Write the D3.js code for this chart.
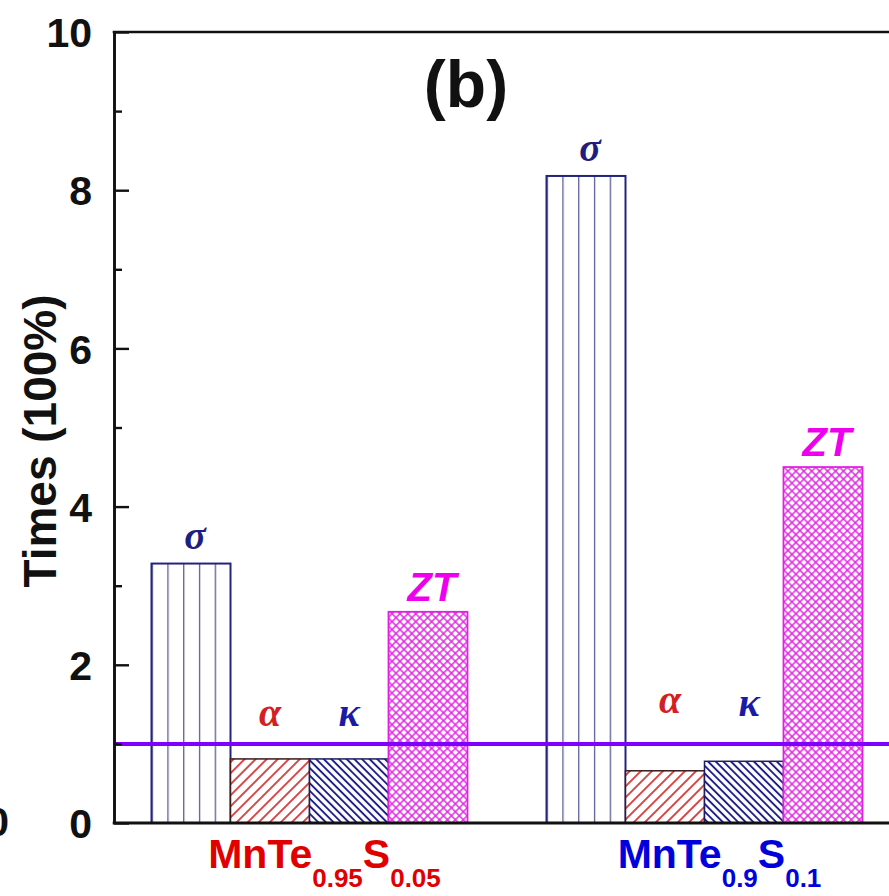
<!DOCTYPE html>
<html>
<head>
<meta charset="utf-8">
<script src="https://cdn.jsdelivr.net/npm/d3@7/dist/d3.min.js"></script>
<style>
  html, body { margin: 0; padding: 0; background: #fff; }
  svg { display: block; }
</style>
</head>
<body>
<div id="chart"></div>
<script>
// Relative change of each property for the two S-substituted samples (1 = pristine MnTe)
const groups = ["MnTe0.95S0.05", "MnTe0.9S0.1"];
const series = ["sigma", "alpha", "kappa", "ZT"];
const seriesSymbols = ["σ", "α", "κ", "ZT"];
const sigmaValues = [3.28, 8.18];
const alphaValues = [0.81, 0.66];
const kappaValues = [0.81, 0.78];
const ztValues = [2.67, 4.5];
const referenceLevel = 1;
const yMajorTicks = [0, 2, 4, 6, 8, 10];
const yMinorTicks = [1, 3, 5, 7, 9];
const groupLabelParts = [
  [["MnTe", false], ["0.95", true], ["S", false], ["0.05", true]],
  [["MnTe", false], ["0.9", true], ["S", false], ["0.1", true]]
];
const panelTag = "(b)";
const yTitle = "Times (100%)";

const valuesBySeries = { sigma: sigmaValues, alpha: alphaValues, kappa: kappaValues, ZT: ztValues };

const W = 889, H = 896;
const plotLeft = 114, plotTop = 32, plotBottom = 823, plotRight = 904;

const svg = d3.select("#chart").append("svg")
  .attr("width", W).attr("height", H)
  .attr("viewBox", `0 0 ${W} ${H}`);

const sans = "'Liberation Sans', Arial, Helvetica, sans-serif";
const serif = "'Liberation Serif', 'Times New Roman', serif";

const y = d3.scaleLinear().domain([0, 10]).range([plotBottom, plotTop]);
const x0 = d3.scaleBand().domain(groups).range([112, 902]).paddingInner(0.2).paddingOuter(0.1);
const x1 = d3.scaleBand().domain(series).range([0, x0.bandwidth()]).padding(0);

// ---- hatch patterns ----
const defs = svg.append("defs");
function linePattern(id, size, angle, color, width, cross) {
  const p = defs.append("pattern")
    .attr("id", id)
    .attr("patternUnits", "userSpaceOnUse")
    .attr("width", size).attr("height", size)
    .attr("patternTransform", `rotate(${angle})`);
  p.append("line").attr("x1", 0).attr("y1", -1).attr("x2", 0).attr("y2", size + 1)
    .attr("stroke", color).attr("stroke-width", width);
  p.append("line").attr("x1", size).attr("y1", -1).attr("x2", size).attr("y2", size + 1)
    .attr("stroke", color).attr("stroke-width", width);
  if (cross) {
    p.append("line").attr("x1", -1).attr("y1", 0).attr("x2", size + 1).attr("y2", 0)
      .attr("stroke", color).attr("stroke-width", width);
    p.append("line").attr("x1", -1).attr("y1", size).attr("x2", size + 1).attr("y2", size)
      .attr("stroke", color).attr("stroke-width", width);
  }
}
linePattern("hatch-alpha", 7.8, 45, "#d02a2a", 1.7, false);
linePattern("hatch-kappa", 5.4, -45, "#1e1e86", 1.9, false);
linePattern("hatch-zt", 5.6, 45, "#e020e0", 1.4, true);

// vertical stripes: five columns per bar
const vp = defs.append("pattern")
  .attr("id", "stripe-sigma")
  .attr("patternUnits", "objectBoundingBox")
  .attr("width", 0.2).attr("height", 1);
vp.append("line").attr("x1", 0).attr("y1", 0).attr("x2", 0).attr("y2", 2000)
  .attr("stroke", "#5e5e96").attr("stroke-width", 2.6);

const style = {
  sigma: { fill: "url(#stripe-sigma)", stroke: "#24247e", sw: 2 },
  alpha: { fill: "url(#hatch-alpha)", stroke: "#3a1a1a", sw: 1.5 },
  kappa: { fill: "url(#hatch-kappa)", stroke: "#1e1e60", sw: 1.5 },
  ZT: { fill: "url(#hatch-zt)", stroke: "#e020e0", sw: 1.8 }
};

// ---- bars ----
const barData = [];
groups.forEach((g, gi) => {
  series.forEach((s, si) => {
    barData.push({ group: g, gi, series: s, si, value: valuesBySeries[s][gi] });
  });
});

const bars = svg.append("g").selectAll("g.bar").data(barData).join("g").attr("class", "bar");
bars.append("rect")
  .attr("x", d => x0(d.group) + x1(d.series))
  .attr("y", d => y(d.value))
  .attr("width", x1.bandwidth())
  .attr("height", d => y(0) - y(d.value))
  .attr("fill", "#fff");
bars.append("rect")
  .attr("x", d => x0(d.group) + x1(d.series))
  .attr("y", d => y(d.value))
  .attr("width", x1.bandwidth())
  .attr("height", d => y(0) - y(d.value))
  .attr("fill", d => style[d.series].fill)
  .attr("stroke", d => style[d.series].stroke)
  .attr("stroke-width", d => style[d.series].sw);

// ---- reference line at 1 ----
svg.append("line")
  .attr("x1", plotLeft).attr("x2", plotRight)
  .attr("y1", y(referenceLevel)).attr("y2", y(referenceLevel))
  .attr("stroke", "#8000ff").attr("stroke-width", 4);

// ---- symbols above bars ----
const symColor = { sigma: "#1e1e80", alpha: "#d42020", kappa: "#1a1aa8", ZT: "#ee00ee" };
// α and κ sit above the reference line; σ and ZT sit above their bars
const lineLift = [18, 31];
barData.forEach(d => {
  const cx = x0(d.group) + x1(d.series) + x1.bandwidth() / 2;
  let by, sz, fam, weight, dx = 0;
  if (d.series === "ZT") {
    by = y(d.value) - 11; sz = 40; fam = sans; weight = "bold"; dx = 4;
  } else if (d.series === "sigma") {
    by = y(d.value) - 15; sz = 40; fam = serif; weight = "bold"; dx = 4;
  } else {
    by = y(referenceLevel) - lineLift[d.gi] - (d.series === "kappa" && d.gi === 1 ? -3 : 0);
    sz = 40; fam = serif; weight = "bold"; dx = d.gi === 1 ? 5 : 0;
  }
  svg.append("text")
    .attr("x", cx + dx).attr("y", by)
    .attr("text-anchor", "middle")
    .attr("font-family", fam).attr("font-style", "italic").attr("font-weight", weight)
    .attr("font-size", sz).attr("fill", symColor[d.series])
    .text(seriesSymbols[d.si]);
});

// ---- axes ----
const axisMinor = d3.axisLeft(y).tickValues(yMinorTicks).tickSize(-8).tickSizeOuter(0).tickFormat("");
const axisMajor = d3.axisLeft(y).tickValues(yMajorTicks).tickSize(-15).tickSizeOuter(0).tickPadding(22)
  .tickFormat(d3.format("d"));

const gMinor = svg.append("g").attr("transform", `translate(${plotLeft},0)`).call(axisMinor);
const gMajor = svg.append("g").attr("transform", `translate(${plotLeft},0)`).call(axisMajor);
[gMinor, gMajor].forEach(g => {
  g.select(".domain").attr("stroke", "#111").attr("stroke-width", 2.6);
  g.selectAll(".tick line").attr("stroke", "#111").attr("stroke-width", 2.4);
});
gMajor.selectAll(".tick text")
  .attr("font-family", sans).attr("font-weight", "bold").attr("font-size", 41)
  .attr("fill", "#111").attr("dy", "0.36em");

// frame: top and bottom
svg.append("line").attr("x1", plotLeft - 1.3).attr("x2", plotRight).attr("y1", plotTop).attr("y2", plotTop)
  .attr("stroke", "#111").attr("stroke-width", 2.6);
svg.append("line").attr("x1", plotLeft - 1.3).attr("x2", plotRight).attr("y1", plotBottom).attr("y2", plotBottom)
  .attr("stroke", "#111").attr("stroke-width", 3);

// edge of the neighbouring panel's zero label
svg.append("text").attr("x", 9).attr("y", 836).attr("text-anchor", "end")
  .attr("font-family", sans).attr("font-weight", "bold").attr("font-size", 41).attr("fill", "#111")
  .text("0");

// y title
svg.append("text")
  .attr("transform", `translate(56, 441) rotate(-90)`)
  .attr("text-anchor", "middle")
  .attr("font-family", sans).attr("font-weight", "bold").attr("font-size", 46).attr("fill", "#111")
  .text(yTitle);

// panel tag
svg.append("text")
  .attr("x", 466).attr("y", 107).attr("text-anchor", "middle")
  .attr("font-family", sans).attr("font-weight", "bold").attr("font-size", 66).attr("fill", "#111")
  .text(panelTag);

// group labels with subscripts
const groupColors = ["#e00000", "#0000dd"];
groups.forEach((g, gi) => {
  const t = svg.append("text")
    .attr("x", x0(g) + x0.bandwidth() / 2 + 15)
    .attr("y", 868)
    .attr("text-anchor", "middle")
    .attr("font-family", sans).attr("font-weight", "bold")
    .attr("fill", groupColors[gi]);
  groupLabelParts[gi].forEach(([txt, sub], i) => {
    const ts = t.append("tspan").text(txt).attr("font-size", sub ? 26 : 41);
    if (sub) ts.attr("dy", 19);
    else if (i > 0) ts.attr("dy", -19);
  });
});
</script>
</body>
</html>
